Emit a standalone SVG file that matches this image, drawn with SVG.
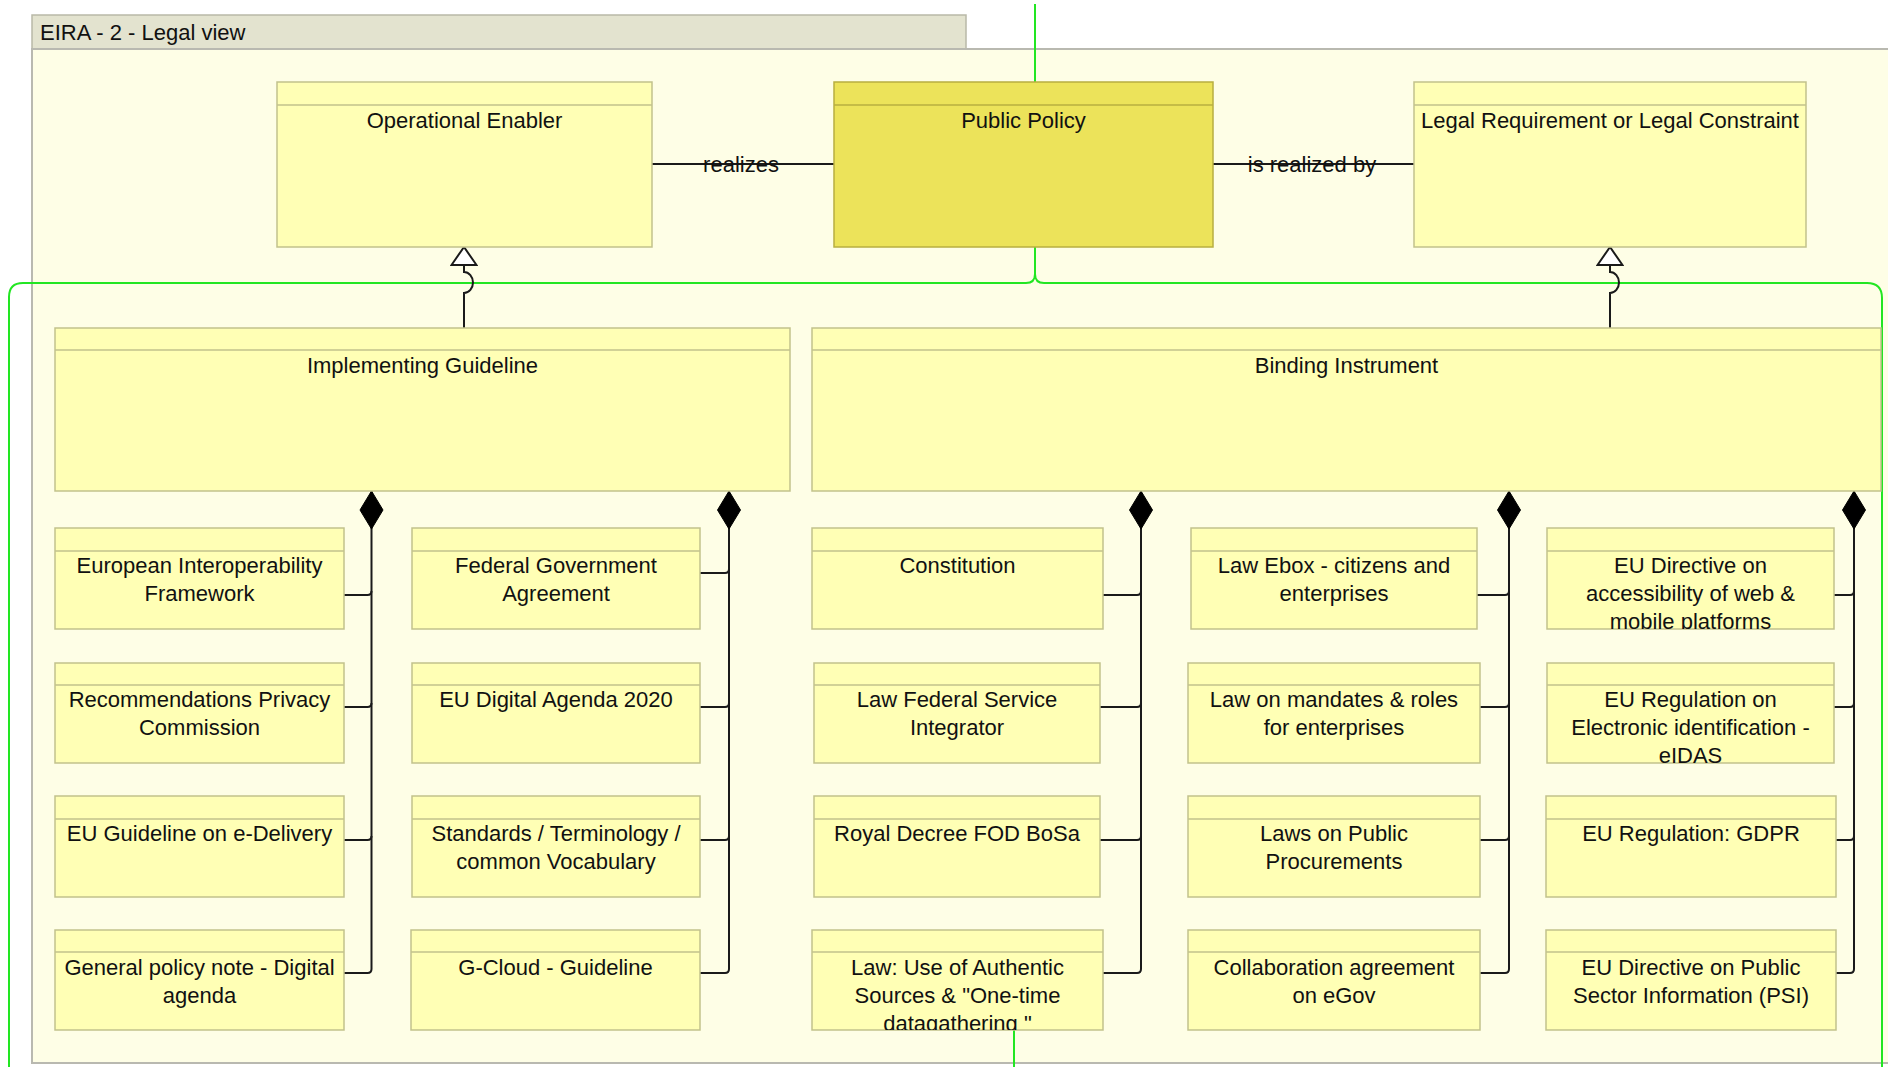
<svg xmlns="http://www.w3.org/2000/svg" width="1888" height="1067" viewBox="0 0 1888 1067">
<defs>
<style>
text{font-family:"Liberation Sans",Arial,sans-serif;font-size:22px;fill:#111;}
.node text{text-anchor:middle;}
.node rect{fill:#FFFFB5;stroke:#C2C28C;stroke-width:1.5;}
.node line{stroke:#C2C28C;stroke-width:1.5;}
.node.pp rect{fill:#ECE35A;stroke:#B8AF40;}
.node.pp line{stroke:#B8AF40;}
.conn{fill:none;stroke:#1a1a1a;stroke-width:2;}
.hl{fill:none;stroke:#22E622;stroke-width:2;}
.lbl{text-anchor:middle;}
</style>
<marker id="diamond" markerUnits="userSpaceOnUse" viewBox="-1 -13 41 26" refX="0" refY="0" markerWidth="41" markerHeight="26" orient="auto">
<path d="M0,0 L19,-11.5 L38,0 L19,11.5 Z" fill="#000" stroke="#000" stroke-width="1"/>
</marker>
<marker id="tri" markerUnits="userSpaceOnUse" viewBox="-20 -14 22 28" refX="0" refY="0" markerWidth="22" markerHeight="28" orient="auto">
<path d="M0,0 L-18,-12.5 L-18,12.5 Z" fill="#fff" stroke="#1a1a1a" stroke-width="2" stroke-linejoin="miter"/>
</marker>
<clipPath id="clipLawUse"><rect x="812" y="930" width="291" height="100"/></clipPath>
<clipPath id="clipAccess"><rect x="1547" y="528" width="287" height="101"/></clipPath>
<clipPath id="clipEidas"><rect x="1547" y="663" width="287" height="100"/></clipPath>
</defs>

<g id="view">
<rect x="32" y="15" width="934" height="34" fill="#E3E3CF" stroke="#B9B9A8" stroke-width="1.5"/>
<rect x="32" y="49" width="1880" height="1014" fill="#FEFEE6" stroke="#B9B9B0" stroke-width="2"/>
<text x="40" y="40">EIRA - 2 - Legal view</text>
</g>

<g id="connectors">
<path class="hl" d="M1035,4 V82"/>
<path class="hl" d="M1035,247 V274 Q1035,283 1026,283 H23 Q9,283 9,297 V1067"/>
<path class="hl" d="M1035,274 Q1035,283 1044,283 H1867 Q1882,283 1882,298 V1067"/>
<path class="hl" d="M1014,1030 V1067"/>

<line class="conn" x1="652" y1="164" x2="834" y2="164"/>
<text class="lbl" x="741" y="172">realizes</text>
<line class="conn" x1="1213" y1="164" x2="1414" y2="164"/>
<text class="lbl" x="1312" y="172">is realized by</text>

<path class="conn" d="M464,328 V293 A9,10.5 0 0 0 464,272 V247" marker-end="url(#tri)"/>
<path class="conn" d="M1610,328 V293 A9,10.5 0 0 0 1610,272 V247" marker-end="url(#tri)"/>

<path class="conn" d="M371.5,491 V969 Q371.5,973 367.5,973 H344" marker-start="url(#diamond)"/>
<path class="conn" d="M344,595 H367.5 Q371.5,595 371.5,591"/>
<path class="conn" d="M344,707 H367.5 Q371.5,707 371.5,703"/>
<path class="conn" d="M344,840 H367.5 Q371.5,840 371.5,836"/>

<path class="conn" d="M729,491 V969 Q729,973 725,973 H700"/>
<path class="conn" d="M729,491 V492" marker-start="url(#diamond)"/>
<path class="conn" d="M700,573 H725 Q729,573 729,569"/>
<path class="conn" d="M700,707 H725 Q729,707 729,703"/>
<path class="conn" d="M700,840 H725 Q729,840 729,836"/>

<path class="conn" d="M1141,491 V969 Q1141,973 1137,973 H1103" marker-start="url(#diamond)"/>
<path class="conn" d="M1103,595 H1137 Q1141,595 1141,591"/>
<path class="conn" d="M1100,707 H1137 Q1141,707 1141,703"/>
<path class="conn" d="M1100,840 H1137 Q1141,840 1141,836"/>

<path class="conn" d="M1509,491 V969 Q1509,973 1505,973 H1480" marker-start="url(#diamond)"/>
<path class="conn" d="M1477,595 H1505 Q1509,595 1509,591"/>
<path class="conn" d="M1480,707 H1505 Q1509,707 1509,703"/>
<path class="conn" d="M1480,840 H1505 Q1509,840 1509,836"/>

<path class="conn" d="M1854,491 V969 Q1854,973 1850,973 H1836" marker-start="url(#diamond)"/>
<path class="conn" d="M1834,595 H1850 Q1854,595 1854,591"/>
<path class="conn" d="M1834,707 H1850 Q1854,707 1854,703"/>
<path class="conn" d="M1836,840 H1850 Q1854,840 1854,836"/>
</g>

<g id="operational-enabler" class="node"><rect x="277" y="82" width="375" height="165"/><line x1="277" y1="105" x2="652" y2="105"/><text x="464.5" y="128">Operational Enabler</text></g>
<g id="public-policy" class="node pp"><rect x="834" y="82" width="379" height="165"/><line x1="834" y1="105" x2="1213" y2="105"/><text x="1023.5" y="128">Public Policy</text></g>
<g id="legal-requirement" class="node"><rect x="1414" y="82" width="392" height="165"/><line x1="1414" y1="105" x2="1806" y2="105"/><text x="1610" y="128">Legal Requirement or Legal Constraint</text></g>

<g id="implementing-guideline" class="node"><rect x="55" y="328" width="735" height="163"/><line x1="55" y1="350" x2="790" y2="350"/><text x="422.5" y="373">Implementing Guideline</text></g>
<g id="binding-instrument" class="node"><rect x="812" y="328" width="1069" height="163"/><line x1="812" y1="350" x2="1881" y2="350"/><text x="1346.5" y="373">Binding Instrument</text></g>

<g id="eif" class="node"><rect x="55" y="528" width="289" height="101"/><line x1="55" y1="551" x2="344" y2="551"/><text x="199.5" y="573"><tspan x="199.5">European Interoperability</tspan><tspan x="199.5" dy="28">Framework</tspan></text></g>
<g id="privacy-commission" class="node"><rect x="55" y="663" width="289" height="100"/><line x1="55" y1="685" x2="344" y2="685"/><text x="199.5" y="707"><tspan x="199.5">Recommendations Privacy</tspan><tspan x="199.5" dy="28">Commission</tspan></text></g>
<g id="edelivery" class="node"><rect x="55" y="796" width="289" height="101"/><line x1="55" y1="819" x2="344" y2="819"/><text x="199.5" y="841">EU Guideline on e-Delivery</text></g>
<g id="policy-note" class="node"><rect x="55" y="930" width="289" height="100"/><line x1="55" y1="952" x2="344" y2="952"/><text x="199.5" y="975"><tspan x="199.5">General policy note - Digital</tspan><tspan x="199.5" dy="28">agenda</tspan></text></g>

<g id="fed-gov-agreement" class="node"><rect x="412" y="528" width="288" height="101"/><line x1="412" y1="551" x2="700" y2="551"/><text x="556" y="573"><tspan x="556">Federal Government</tspan><tspan x="556" dy="28">Agreement</tspan></text></g>
<g id="digital-agenda" class="node"><rect x="412" y="663" width="288" height="100"/><line x1="412" y1="685" x2="700" y2="685"/><text x="556" y="707">EU Digital Agenda 2020</text></g>
<g id="standards" class="node"><rect x="412" y="796" width="288" height="101"/><line x1="412" y1="819" x2="700" y2="819"/><text x="556" y="841"><tspan x="556">Standards / Terminology /</tspan><tspan x="556" dy="28">common Vocabulary</tspan></text></g>
<g id="g-cloud" class="node"><rect x="411" y="930" width="289" height="100"/><line x1="411" y1="952" x2="700" y2="952"/><text x="555.5" y="975">G-Cloud - Guideline</text></g>

<g id="constitution" class="node"><rect x="812" y="528" width="291" height="101"/><line x1="812" y1="551" x2="1103" y2="551"/><text x="957.5" y="573">Constitution</text></g>
<g id="law-fsi" class="node"><rect x="814" y="663" width="286" height="100"/><line x1="814" y1="685" x2="1100" y2="685"/><text x="957" y="707"><tspan x="957">Law Federal Service</tspan><tspan x="957" dy="28">Integrator</tspan></text></g>
<g id="royal-decree" class="node"><rect x="814" y="796" width="286" height="101"/><line x1="814" y1="819" x2="1100" y2="819"/><text x="957" y="841">Royal Decree FOD BoSa</text></g>
<g id="law-authentic-sources" class="node"><rect x="812" y="930" width="291" height="100"/><line x1="812" y1="952" x2="1103" y2="952"/><text x="957.5" y="975" clip-path="url(#clipLawUse)"><tspan x="957.5">Law: Use of Authentic</tspan><tspan x="957.5" dy="28">Sources &amp; "One-time</tspan><tspan x="957.5" dy="28">datagathering "</tspan></text></g>

<g id="law-ebox" class="node"><rect x="1191" y="528" width="286" height="101"/><line x1="1191" y1="551" x2="1477" y2="551"/><text x="1334" y="573"><tspan x="1334">Law Ebox - citizens and</tspan><tspan x="1334" dy="28">enterprises</tspan></text></g>
<g id="law-mandates" class="node"><rect x="1188" y="663" width="292" height="100"/><line x1="1188" y1="685" x2="1480" y2="685"/><text x="1334" y="707"><tspan x="1334">Law on mandates &amp; roles</tspan><tspan x="1334" dy="28">for enterprises</tspan></text></g>
<g id="public-procurements" class="node"><rect x="1188" y="796" width="292" height="101"/><line x1="1188" y1="819" x2="1480" y2="819"/><text x="1334" y="841"><tspan x="1334">Laws on Public</tspan><tspan x="1334" dy="28">Procurements</tspan></text></g>
<g id="collaboration-egov" class="node"><rect x="1188" y="930" width="292" height="100"/><line x1="1188" y1="952" x2="1480" y2="952"/><text x="1334" y="975"><tspan x="1334">Collaboration agreement</tspan><tspan x="1334" dy="28">on eGov</tspan></text></g>

<g id="eu-accessibility" class="node"><rect x="1547" y="528" width="287" height="101"/><line x1="1547" y1="551" x2="1834" y2="551"/><text x="1690.5" y="573" clip-path="url(#clipAccess)"><tspan x="1690.5">EU Directive on</tspan><tspan x="1690.5" dy="28">accessibility of web &amp;</tspan><tspan x="1690.5" dy="28">mobile platforms</tspan></text></g>
<g id="eu-eidas" class="node"><rect x="1547" y="663" width="287" height="100"/><line x1="1547" y1="685" x2="1834" y2="685"/><text x="1690.5" y="707" clip-path="url(#clipEidas)"><tspan x="1690.5">EU Regulation on</tspan><tspan x="1690.5" dy="28">Electronic identification -</tspan><tspan x="1690.5" dy="28">eIDAS</tspan></text></g>
<g id="eu-gdpr" class="node"><rect x="1546" y="796" width="290" height="101"/><line x1="1546" y1="819" x2="1836" y2="819"/><text x="1691" y="841">EU Regulation: GDPR</text></g>
<g id="eu-psi" class="node"><rect x="1546" y="930" width="290" height="100"/><line x1="1546" y1="952" x2="1836" y2="952"/><text x="1691" y="975"><tspan x="1691">EU Directive on Public</tspan><tspan x="1691" dy="28">Sector Information (PSI)</tspan></text></g>
</svg>
